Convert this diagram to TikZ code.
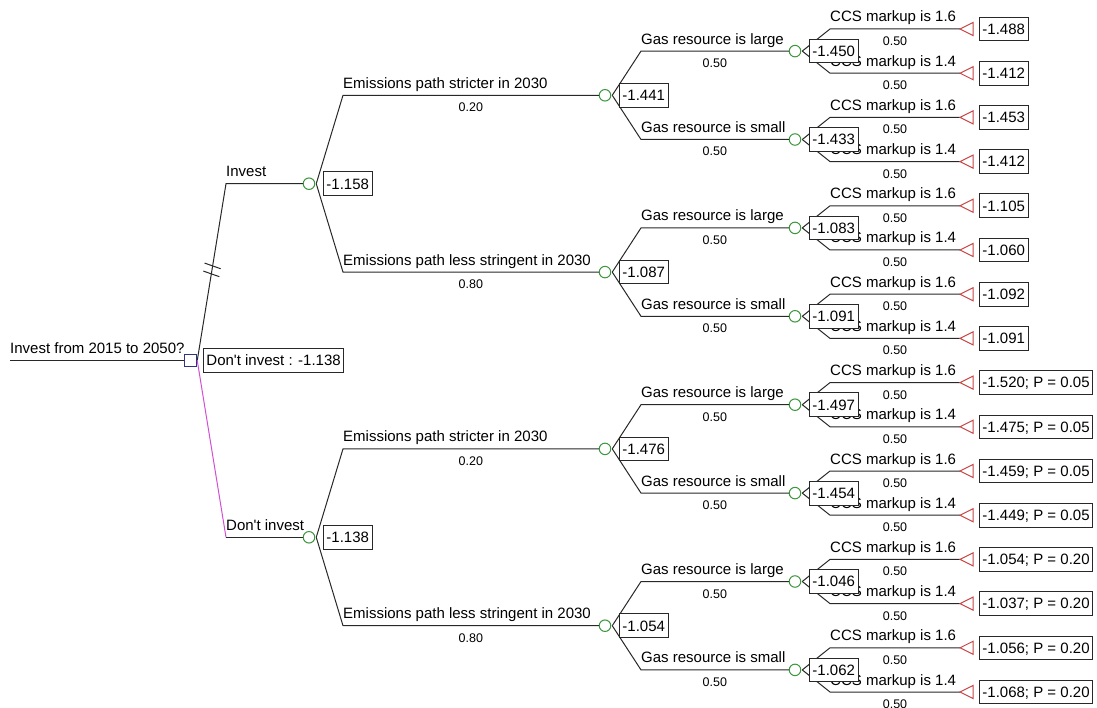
\documentclass[tikz,border=0pt]{standalone}
\usepackage{fontspec}
\setmainfont{Liberation Sans}
\usetikzlibrary{calc}
\definecolor{lncol}{RGB}{40,40,40}
\definecolor{chgreen}{RGB}{60,150,60}
\definecolor{trired}{RGB}{200,70,70}
\definecolor{decblue}{RGB}{50,50,130}
\definecolor{dimag}{RGB}{210,80,210}
\newcommand\valfont{\fontsize{15}{18}\selectfont}
\newcommand\labfont{\fontsize{15}{18}\selectfont}
\newcommand\probfont{\fontsize{12.5}{15}\selectfont}
\tikzset{
 edge/.style={draw=lncol, line width=1pt},
 chance/.style={circle, draw=chgreen, line width=1pt, minimum size=11.5pt, inner sep=0pt, fill=white},
 decision/.style={rectangle, draw=decblue, line width=1pt, minimum size=12.5pt, inner sep=0pt, fill=white},
 termtri/.style={draw=trired, line width=1pt, fill=white},
 valbox/.style={draw=lncol, line width=0.9pt, fill=white, font=\valfont, inner xsep=3pt, inner ysep=6.5pt, text height=10.7pt, text depth=0pt, anchor=west},
 brlab/.style={font=\labfont, inner sep=0pt, anchor=base west},
 problab/.style={font=\probfont, inner sep=0pt, anchor=base},
}
\begin{document}
\begin{tikzpicture}[x=1pt,y=-1pt]
\useasboundingbox (0,0) rectangle (1097,708);
% root
\coordinate (r0) at (10,360.5);
\node[decision] (root) at (190.5,360.5) {};
\draw[edge] (r0) -- (root.west);
\node[brlab] (rootlab) at (10,353.5) {Invest from 2015 to 2050?};
% level 1 (decision branches)
\foreach \m in {0,1} {
  \pgfmathsetmacro\y{183.7+353.6*\m}
  \coordinate (cb\m) at (226,\y);
  \node[chance] (c\m) at (309,\y) {};
}
\draw[edge] (root.east) -- (cb0) -- (c0.west);
\draw[edge, draw=dimag] (root.east) -- (cb1);
\draw[edge] (cb1) -- (c1.west);
\node[brlab] (lab-c0) at ($(cb0)+(0,-7)$) {Invest};
\node[brlab] (lab-c1) at ($(cb1)+(0,-7)$) {Don\textquotesingle t invest};
% hash marks on the Invest branch
\coordinate (h1) at ($(root.east)!0.535!(cb0)$);
\coordinate (h2) at ($(root.east)!0.49!(cb0)$);
\draw[edge] ($(h1)+(-8,-2.8)$) -- ($(h1)+(8,2.8)$);
\draw[edge] ($(h2)+(-8,-2.8)$) -- ($(h2)+(8,2.8)$);
% level 2 (emissions)
\foreach \i in {0,...,3} {
  \pgfmathsetmacro\y{95.3+176.8*\i}
  \pgfmathtruncatemacro\p{\i/2}
  \coordinate (eb\i) at (343,\y);
  \node[chance] (e\i) at (605,\y) {};
  \draw[edge] ([xshift=1pt]c\p.east) -- (eb\i) -- (e\i.west);
  \ifodd\i
    \def\lab{Emissions path less stringent in 2030}\def\pr{0.80}
  \else
    \def\lab{Emissions path stricter in 2030}\def\pr{0.20}
  \fi
  \node[brlab] at ($(eb\i)+(0,-7)$) {\lab};
  \node[problab] at ($(eb\i)!0.5!(e\i.west)+(0,16.5)$) {\pr};
}
% level 3 (gas)
\foreach \j in {0,...,7} {
  \pgfmathsetmacro\y{51.1+88.4*\j}
  \pgfmathtruncatemacro\p{\j/2}
  \coordinate (gb\j) at (641,\y);
  \node[chance] (g\j) at (795,\y) {};
  \draw[edge] ([xshift=1pt]e\p.east) -- (gb\j) -- (g\j.west);
  \ifodd\j
    \def\lab{Gas resource is small}
  \else
    \def\lab{Gas resource is large}
  \fi
  \node[brlab] at ($(gb\j)+(0,-7)$) {\lab};
  \node[problab] at ($(gb\j)!0.5!(g\j.west)+(0,16.5)$) {0.50};
}
% level 4 (CCS markup) and terminals
\foreach \k/\val in {0/-1.488, 1/-1.412, 2/-1.453, 3/-1.412, 4/-1.105, 5/-1.060, 6/-1.092, 7/-1.091,
  8/{-1.520; P = 0.05}, 9/{-1.475; P = 0.05}, 10/{-1.459; P = 0.05}, 11/{-1.449; P = 0.05},
  12/{-1.054; P = 0.20}, 13/{-1.037; P = 0.20}, 14/{-1.056; P = 0.20}, 15/{-1.068; P = 0.20}} {
  \pgfmathsetmacro\y{29+44.2*\k}
  \pgfmathtruncatemacro\p{\k/2}
  \coordinate (tb\k) at (830,\y);
  \coordinate (tt\k) at (960,\y);
  \draw[edge] ([xshift=1pt]g\p.east) -- (tb\k) -- (tt\k);
  \draw[termtri] (tt\k) -- ++(13,-6.5) -- ++(0,13) -- cycle;
  \ifodd\k
    \def\lab{CCS markup is 1.4}
  \else
    \def\lab{CCS markup is 1.6}
  \fi
  \node[brlab] at ($(tb\k)+(0,-7)$) {\lab};
  \node[problab] at ($(tb\k)!0.5!(tt\k)+(0,16.5)$) {0.50};
  \node[valbox] (tv\k) at (979,\y) {\val};
}
% value boxes of chance nodes (drawn on top)
\foreach \m/\val in {0/-1.158, 1/-1.138} {
  \node[valbox] (cv\m) at ([xshift=14pt]c\m.center) {\val};
}
\foreach \i/\val in {0/-1.441, 1/-1.087, 2/-1.476, 3/-1.054} {
  \node[valbox] (ev\i) at ([xshift=14pt]e\i.center) {\val};
}
\foreach \j/\val in {0/-1.450, 1/-1.433, 2/-1.083, 3/-1.091, 4/-1.497, 5/-1.454, 6/-1.046, 7/-1.062} {
  \node[valbox] (gv\j) at ([xshift=14pt]g\j.center) {\val};
}
\node[valbox] (rootval) at (203,360.5) {Don\textquotesingle t invest : -1.138};
\end{tikzpicture}
\end{document}
